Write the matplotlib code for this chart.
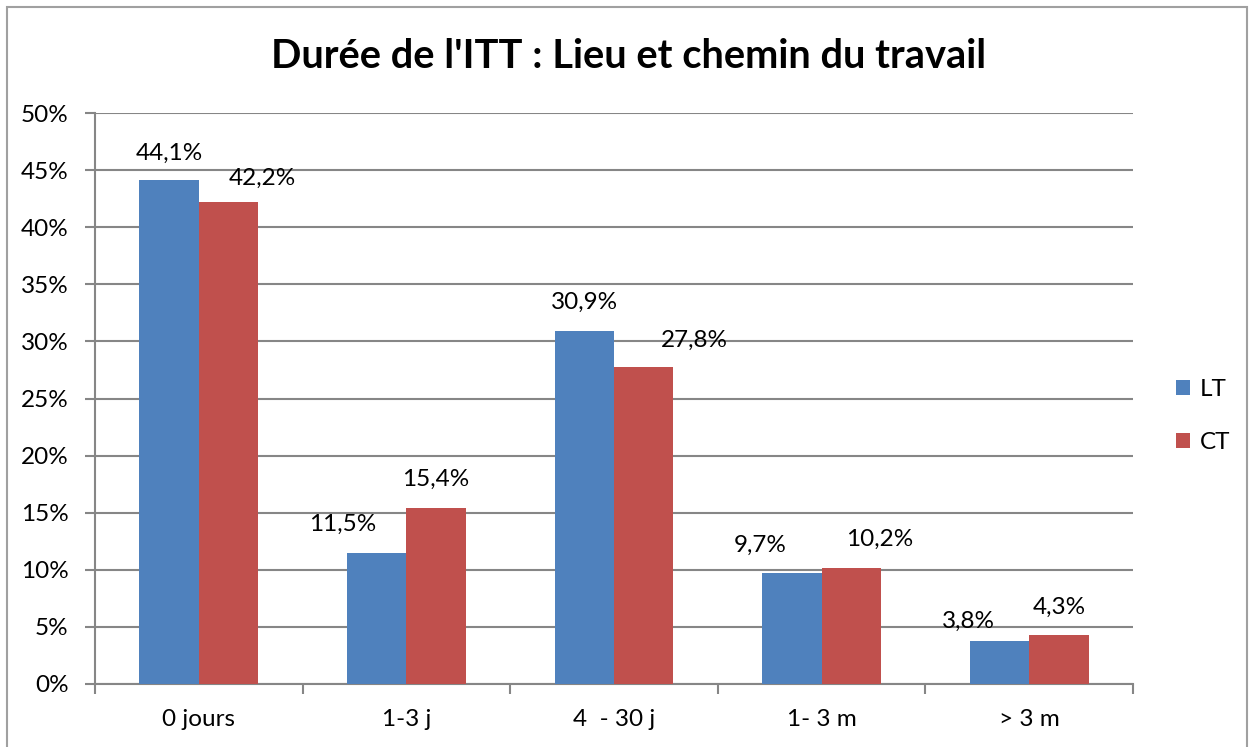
import matplotlib
matplotlib.use("Agg")
import matplotlib.pyplot as plt
import numpy as np
from matplotlib.patches import Rectangle

# === Data ===
categories = ["0 jours", "1-3 j", "4  - 30 j", "1- 3 m", "> 3 m"]
lt_values = [44.1, 11.5, 30.9, 9.7, 3.8]
ct_values = [42.2, 15.4, 27.8, 10.2, 4.3]
lt_labels = ["44,1%", "11,5%", "30,9%", "9,7%", "3,8%"]
ct_labels = ["42,2%", "15,4%", "27,8%", "10,2%", "4,3%"]
y_ticks = [0, 5, 10, 15, 20, 25, 30, 35, 40, 45, 50]

# label offsets in pixels (dx, dy above bar top), as placed in the original
lt_dx = [0, -34, 0, -32, -31]
lt_dy = [27, 28, 29, 28, 19]
ct_dx = [34, 0, 51, 28, 0]
ct_dy = [24, 29, 26, 28, 28]

blue = "#4F81BD"
red = "#C0504D"
grid_col = "#868686"
font = "Lato"
fs = 17.5

W, H = 1249, 747
fig = plt.figure(figsize=(W / 100, H / 100), dpi=100)
ax = fig.add_axes([95 / W, 1 - 684 / H, (1133 - 95) / W, (684 - 113) / H])

x = np.arange(len(categories))
bw = 1 / 3.5
ax.bar(x - bw / 2, lt_values, bw, color=blue, label="LT", zorder=3)
ax.bar(x + bw / 2, ct_values, bw, color=red, label="CT", zorder=3)

for i in range(len(categories)):
    ax.annotate(lt_labels[i], (x[i] - bw / 2, lt_values[i]),
                xytext=(lt_dx[i], lt_dy[i]), textcoords="offset pixels",
                ha="center", va="center", fontsize=fs, family=font)
    ax.annotate(ct_labels[i], (x[i] + bw / 2, ct_values[i]),
                xytext=(ct_dx[i], ct_dy[i]), textcoords="offset pixels",
                ha="center", va="center", fontsize=fs, family=font)

ax.set_xlim(-0.5, len(categories) - 0.5)
ax.set_ylim(0, 50)
ax.set_yticks(y_ticks)
ax.set_yticklabels([f"{t}%" for t in y_ticks], family=font, fontsize=fs)
ax.yaxis.grid(True, color=grid_col, linewidth=1.5, zorder=0)
ax.set_axisbelow(True)

ax.set_xticks(x)
ax.set_xticklabels(categories, family=font, fontsize=fs)
ax.set_xticks(np.arange(-0.5, len(categories), 1), minor=True)
ax.tick_params(axis="x", which="major", length=0, pad=18)
ax.tick_params(axis="x", which="minor", length=7, width=1.5, color=grid_col)
ax.tick_params(axis="y", length=7, width=1.5, color=grid_col, pad=12)

for side in ["top", "right"]:
    ax.spines[side].set_visible(False)
for side in ["left", "bottom"]:
    ax.spines[side].set_color(grid_col)
    ax.spines[side].set_linewidth(1.5)

fig.text(629 / W, 1 - 56 / H, "Durée de l'ITT : Lieu et chemin du travail",
         ha="center", va="center", fontsize=28.7, fontweight="bold", family=font)

leg = fig.legend(loc="center left", bbox_to_anchor=(1154 / W, 1 - 416 / H),
                 frameon=False, prop={"family": font, "size": fs},
                 handlelength=0.6, handleheight=0.6, handletextpad=0.4,
                 labelspacing=1.3)

fig.patches.append(Rectangle((7 / W, -10 / H), (1247 - 7) / W, (740 + 10) / H,
                             transform=fig.transFigure, fill=False,
                             edgecolor="#A0A0A0", linewidth=1.5))

fig.savefig("out.png", dpi=100)
